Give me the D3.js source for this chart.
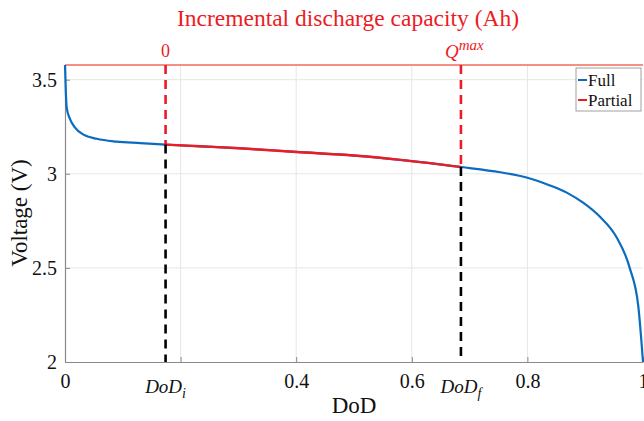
<!DOCTYPE html>
<html>
<head>
<meta charset="utf-8">
<script src="https://cdn.jsdelivr.net/npm/d3@7"></script>
<style>
  html, body { margin: 0; padding: 0; background: #fff; }
  svg { display: block; font-family: "Liberation Serif", "Times New Roman", serif; }
</style>
</head>
<body>
<svg id="chart" width="644" height="421"></svg>
<script>
// Full discharge curve: depth of discharge vs. terminal voltage
const fullDoD     = [0, 0.0015, 0.003, 0.0087, 0.017, 0.032, 0.055, 0.089, 0.13, 0.174, 0.234, 0.3, 0.4, 0.5, 0.58, 0.685, 0.753, 0.8, 0.839, 0.868, 0.897, 0.926, 0.954, 0.977, 0.992, 1.0];
const fullVoltage = [3.578, 3.43, 3.35, 3.29, 3.247, 3.208, 3.186, 3.171, 3.163, 3.155, 3.146, 3.136, 3.116, 3.097, 3.074, 3.036, 3.008, 2.979, 2.938, 2.900, 2.845, 2.77, 2.664, 2.5, 2.293, 2.0];

// Partial discharge segment between DoD_i and DoD_f
const partialDoD     = [0.174, 0.234, 0.3, 0.4, 0.5, 0.58, 0.685];
const partialVoltage = [3.155, 3.146, 3.136, 3.116, 3.097, 3.074, 3.036];

// Start / end of the partial discharge
const dodInitial = 0.174;
const dodFinal   = 0.685;
const vInitial   = 3.155;
const vFinal     = 3.036;

// Axis ticks
const xTickValues = [0, 0.2, 0.4, 0.6, 0.8, 1];
const xTickLabels = ["0", "", "0.4", "0.6", "0.8", "1"];
const yTickValues = [2, 2.5, 3, 3.5];
const yTickLabels = ["2", "2.5", "3", "3.5"];

const svg = d3.select("#chart");
const plotL = 65, plotR = 643, plotT = 65, plotB = 362;

const x = d3.scaleLinear().domain([0, 1]).range([plotL, plotR]);
const y = d3.scaleLinear().domain([2, 3.578]).range([plotB, plotT]);

const RED = "#ec1c24", BLUE = "#0a6cc0";

// grid
const grid = svg.append("g");
grid.selectAll("line.gx").data(xTickValues.filter(v => v > 0 && v < 1)).join("line")
  .attr("x1", d => x(d)).attr("x2", d => x(d)).attr("y1", plotT).attr("y2", plotB)
  .attr("stroke", "#e6e6e6").attr("stroke-width", 1);
grid.selectAll("line.gy").data(yTickValues.filter(v => v > 2)).join("line")
  .attr("x1", plotL).attr("x2", plotR).attr("y1", d => y(d)).attr("y2", d => y(d))
  .attr("stroke", "#e6e6e6").attr("stroke-width", 1);

// bottom axis
const xAxis = d3.axisBottom(x).tickValues(xTickValues)
  .tickFormat((d, i) => xTickLabels[i]).tickSizeInner(-5).tickSizeOuter(0).tickPadding(12);
const gx = svg.append("g").attr("transform", `translate(0,${plotB})`).call(xAxis);
gx.select(".domain").attr("stroke", "#8a8a8a").attr("stroke-width", 1.2);
gx.selectAll(".tick line").attr("stroke", "#8a8a8a");
gx.selectAll(".tick text").attr("fill", "#111").attr("font-size", 20)
  .attr("font-family", "Liberation Serif");

// left axis
const yAxis = d3.axisLeft(y).tickValues(yTickValues)
  .tickFormat((d, i) => yTickLabels[i]).tickSizeInner(-5).tickSizeOuter(0).tickPadding(8);
const gy = svg.append("g").attr("transform", `translate(${plotL},0)`).call(yAxis);
gy.select(".domain").attr("stroke", "#8a8a8a").attr("stroke-width", 1.2);
gy.selectAll(".tick line").attr("stroke", "#8a8a8a");
gy.selectAll(".tick text").attr("fill", "#111").attr("font-size", 20)
  .attr("font-family", "Liberation Serif");

// top axis (incremental capacity)
svg.append("line").attr("x1", plotL).attr("x2", plotR).attr("y1", plotT).attr("y2", plotT)
  .attr("stroke", "#ef6a5a").attr("stroke-width", 1.4);

// curves
const line = d3.line().x(d => x(d[0])).y(d => y(d[1])).curve(d3.curveMonotoneX);
svg.append("path").datum(d3.zip(fullDoD, fullVoltage)).attr("d", line)
  .attr("fill", "none").attr("stroke", BLUE).attr("stroke-width", 2.2);
svg.append("path").datum(d3.zip(partialDoD, partialVoltage)).attr("d", line)
  .attr("fill", "none").attr("stroke", RED).attr("stroke-width", 2.4);

// markers for DoD_i and DoD_f
[[dodInitial, vInitial], [dodFinal, vFinal]].forEach(([d, v]) => {
  svg.append("line").attr("x1", x(d)).attr("x2", x(d)).attr("y1", plotT).attr("y2", y(v))
    .attr("stroke", RED).attr("stroke-width", 2.6).attr("stroke-dasharray", "9,6");
  svg.append("line").attr("x1", x(d)).attr("x2", x(d)).attr("y1", y(v)).attr("y2", plotB)
    .attr("stroke", "#000").attr("stroke-width", 2.6).attr("stroke-dasharray", "9,6");
});

// DoD_i / DoD_f labels under the axis
function subLabel(d, sub) {
  const t = svg.append("text").attr("x", x(d)).attr("y", plotB + 31)
    .attr("text-anchor", "middle").attr("font-size", 19).attr("font-style", "italic").attr("fill", "#111");
  t.append("tspan").text("DoD");
  t.append("tspan").attr("dy", 5).attr("font-size", 14).text(sub);
}
subLabel(dodInitial, "i");
subLabel(dodFinal, "f");

// top labels
svg.append("text").attr("x", x(dodInitial)).attr("y", 57).attr("text-anchor", "middle")
  .attr("font-size", 18).attr("fill", RED).text("0");
const q = svg.append("text").attr("x", x(dodFinal) - 16).attr("y", 58)
  .attr("font-size", 19).attr("font-style", "italic").attr("fill", RED);
q.append("tspan").text("Q");
q.append("tspan").attr("dy", -8).attr("font-size", 15).text("max");

// title and axis labels
svg.append("text").attr("x", 348).attr("y", 26).attr("text-anchor", "middle")
  .attr("font-size", 23.5).attr("fill", RED).text("Incremental discharge capacity (Ah)");
svg.append("text").attr("x", 354).attr("y", 413).attr("text-anchor", "middle")
  .attr("font-size", 23).attr("fill", "#111").text("DoD");
svg.append("text").attr("transform", "translate(27,213) rotate(-90)").attr("text-anchor", "middle")
  .attr("font-size", 23).attr("fill", "#111").text("Voltage (V)");

// legend
const lg = svg.append("g");
lg.append("rect").attr("x", 576).attr("y", 68).attr("width", 65).attr("height", 43)
  .attr("fill", "#fff").attr("stroke", "#a0a0a0").attr("stroke-width", 1);
[["Full", BLUE], ["Partial", RED]].forEach(([name, c], i) => {
  const yy = 80 + i * 20;
  lg.append("line").attr("x1", 578).attr("x2", 587).attr("y1", yy).attr("y2", yy)
    .attr("stroke", c).attr("stroke-width", 2);
  lg.append("text").attr("x", 588).attr("y", yy + 6).attr("font-size", 17)
    .attr("fill", "#111").text(name);
});
</script>
</body>
</html>
